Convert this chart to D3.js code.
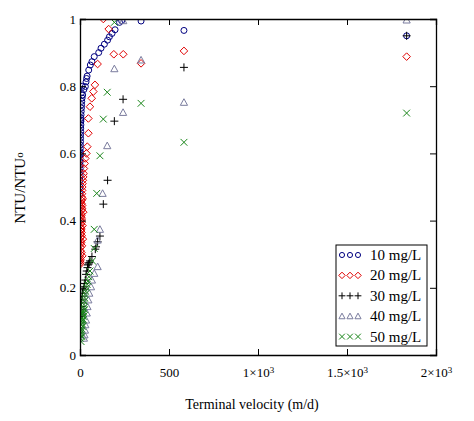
<!DOCTYPE html>
<html>
<head>
<meta charset="utf-8">
<script src="https://cdn.jsdelivr.net/npm/d3@7"></script>
<style>
  body { margin: 0; background: #fff; }
</style>
</head>
<body>
<svg width="474" height="421"></svg>
<script>
// terminal velocity (m/d) and NTU/NTUo per dose
const v10 = [1835, 584, 343, 234, 222, 197, 180, 165, 155, 137, 118, 105, 80, 67, 58, 49, 40, 37, 34, 30, 22, 15, 12, 10, 9, 8, 7, 6, 6, 5, 5, 4, 4, 3, 3, 3, 2, 2, 2, 2, 1, 1, 1, 1, 1, 1, 0.5, 0.5, 0.5, 8, 12, 5, 3];
const r10 = [0.95, 0.966, 0.994, 0.995, 0.99, 0.968, 0.957, 0.947, 0.937, 0.925, 0.913, 0.90, 0.888, 0.873, 0.863, 0.848, 0.83, 0.823, 0.813, 0.799, 0.79, 0.774, 0.765, 0.755, 0.745, 0.735, 0.725, 0.715, 0.705, 0.695, 0.685, 0.675, 0.665, 0.655, 0.645, 0.635, 0.625, 0.615, 0.605, 0.595, 0.585, 0.575, 0.565, 0.555, 0.545, 0.535, 0.52, 0.50, 0.48, 0.78, 0.8, 0.7, 0.6];

const v20 = [1835, 584, 343, 243, 190, 161, 131, 99, 84, 75, 66, 56, 47, 47, 41, 36, 30, 26, 22, 20, 18, 16, 14, 13, 12, 11, 10, 9, 9, 8, 8, 7, 7, 6, 6, 5, 5, 5, 4, 4, 4, 3, 3, 3, 3, 2, 2, 2, 2, 15, 12, 18, 10, 14, 9, 16, 11, 8, 13, 7, 10, 6, 9, 12, 5, 8];
const r20 = [0.888, 0.905, 0.868, 0.895, 0.895, 0.97, 1.0, 0.866, 0.804, 0.784, 0.764, 0.739, 0.704, 0.66, 0.62, 0.60, 0.585, 0.57, 0.555, 0.54, 0.53, 0.52, 0.51, 0.50, 0.49, 0.48, 0.47, 0.46, 0.45, 0.44, 0.43, 0.42, 0.41, 0.40, 0.39, 0.38, 0.37, 0.36, 0.35, 0.34, 0.33, 0.32, 0.31, 0.30, 0.29, 0.285, 0.28, 0.275, 0.27, 0.465, 0.445, 0.425, 0.405, 0.385, 0.365, 0.345, 0.325, 0.305, 0.295, 0.415, 0.355, 0.335, 0.395, 0.435, 0.455, 0.375];

const v30 = [1835, 584, 242, 193, 155, 131, 112, 99, 90, 86, 67, 56, 52, 49, 45, 42, 38, 34, 30, 26, 22, 18, 14, 12, 10, 8, 6, 5, 4, 3, 2];
const r30 = [0.95, 0.856, 0.761, 0.696, 0.52, 0.449, 0.354, 0.337, 0.322, 0.315, 0.293, 0.28, 0.275, 0.271, 0.268, 0.26, 0.25, 0.24, 0.223, 0.213, 0.203, 0.194, 0.184, 0.175, 0.164, 0.155, 0.144, 0.135, 0.125, 0.12, 0.115];

const v40 = [1835, 584, 343, 243, 242, 193, 153, 127, 112, 99, 99, 80, 67, 62, 52, 47, 42, 38, 34, 30, 28, 25, 22];
const r40 = [0.997, 0.752, 0.878, 0.995, 0.722, 0.852, 0.623, 0.481, 0.374, 0.342, 0.263, 0.243, 0.223, 0.203, 0.184, 0.164, 0.144, 0.125, 0.104, 0.09, 0.074, 0.06, 0.05];

const v50 = [1835, 584, 343, 193, 153, 131, 112, 94, 80, 80, 70, 56, 50, 45, 40, 36, 32, 28, 26, 24, 22, 20, 18, 16, 14, 12, 11, 10, 9, 8, 7, 6, 5, 4, 3, 2, 20, 15, 25, 10, 18, 6];
const r50 = [0.72, 0.633, 0.749, 0.99, 0.782, 0.702, 0.593, 0.481, 0.374, 0.317, 0.28, 0.25, 0.233, 0.22, 0.21, 0.2, 0.19, 0.18, 0.17, 0.16, 0.15, 0.14, 0.13, 0.125, 0.12, 0.11, 0.105, 0.10, 0.095, 0.09, 0.08, 0.075, 0.07, 0.065, 0.06, 0.05, 0.115, 0.085, 0.135, 0.055, 0.105, 0.04];

const seriesNames = ['10 mg/L', '20 mg/L', '30 mg/L', '40 mg/L', '50 mg/L'];
const xTicks = [0, 500, 1000, 1500, 2000];
const yTicks = [0, 0.2, 0.4, 0.6, 0.8, 1];

const font = 'Liberation Serif';

const svg = d3.select('svg');
const margin = { top: 19, right: 38, bottom: 66, left: 80 };
const width = +svg.attr('width');
const height = +svg.attr('height');
const innerWidth = width - margin.left - margin.right;
const innerHeight = height - margin.top - margin.bottom;

const xScale = d3.scaleLinear().domain([0, 2000]).range([0, innerWidth]);
const yScale = d3.scaleLinear().domain([0, 1]).range([innerHeight, 0]);

const g = svg.append('g').attr('transform', `translate(${margin.left},${margin.top})`);

g.append('clipPath').attr('id', 'plot')
  .append('rect').attr('width', innerWidth).attr('height', innerHeight);

// marker shapes, stroked like the original
const shapes = [
  s => `M${3 * s},0A${3 * s},${3 * s} 0 1 1 ${-3 * s},0A${3 * s},${3 * s} 0 1 1 ${3 * s},0Z`,
  s => `M0,${-3.8 * s}L${3.8 * s},0L0,${3.8 * s}L${-3.8 * s},0Z`,
  s => `M${-4 * s},0H${4 * s}M0,${-4 * s}V${4 * s}`,
  s => `M0,${-3.6 * s}L${3.6 * s},${3 * s}L${-3.6 * s},${3 * s}Z`,
  s => `M${-3.4 * s},${-3.4 * s}L${3.4 * s},${3.4 * s}M${-3.4 * s},${3.4 * s}L${3.4 * s},${-3.4 * s}`
];
const colors = ['#000080', '#e00000', '#000000', '#7a7c9e', '#1a861a'];

const series = [[v10, r10], [v20, r20], [v30, r30], [v40, r40], [v50, r50]]
  .map(([v, r], i) => ({ i, points: v.map((d, k) => ({ x: d, y: r[k] })) }));

const marks = g.append('g').attr('clip-path', 'url(#plot)');
series.forEach(s => {
  marks.append('g').selectAll('path').data(s.points)
    .enter().append('path')
      .attr('transform', d => `translate(${xScale(d.x)},${yScale(d.y)})`)
      .attr('d', shapes[s.i](1))
      .attr('fill', 'none')
      .attr('stroke', colors[s.i])
      .attr('stroke-width', 1);
});

// axes with inward ticks on all four sides
const xAxis = d3.axisBottom(xScale).tickValues(xTicks).tickSize(-6).tickPadding(13)
  .tickFormat(d => d >= 1000 ? `${d / 1000}×10` : d);
const yAxis = d3.axisLeft(yScale).tickValues(yTicks).tickSize(-6).tickPadding(4)
  .tickFormat(d => d);

const xAxisG = g.append('g').attr('transform', `translate(0,${innerHeight})`).call(xAxis);
xAxisG.selectAll('.tick text').filter(d => d >= 1000)
  .append('tspan').attr('dy', '-0.45em').attr('font-size', 9).text('3');
const yAxisG = g.append('g').call(yAxis);
g.append('g').call(d3.axisTop(xScale).tickValues(xTicks).tickSize(-6).tickFormat(''));
g.append('g').attr('transform', `translate(${innerWidth},0)`)
  .call(d3.axisRight(yScale).tickValues(yTicks).tickSize(-6).tickFormat(''));

g.selectAll('.domain').attr('stroke', '#000').attr('stroke-width', 1.3);
g.selectAll('.tick line').attr('stroke', '#000');
xAxisG.attr('font-family', font);
yAxisG.attr('font-family', font);
g.selectAll('.tick text').attr('font-size', 13).attr('fill', '#000');

xAxisG.append('text')
  .attr('x', innerWidth / 2 - 6)
  .attr('y', 54)
  .attr('fill', '#000')
  .attr('font-size', 14)
  .attr('text-anchor', 'middle')
  .attr('font-family', font)
  .text('Terminal velocity (m/d)');

const yLabel = svg.append('text')
  .attr('transform', 'translate(25,188) rotate(-90)')
  .attr('text-anchor', 'middle')
  .attr('font-size', 15)
  .attr('fill', '#000')
  .attr('font-family', font)
  .text('NTU/NTU');
yLabel.append('tspan').attr('font-size', 11).attr('dy', '-0.15em').text('o');

// legend
const legend = svg.append('g').attr('transform', 'translate(336,245)');
legend.append('rect').attr('width', 91).attr('height', 101)
  .attr('fill', '#fff').attr('stroke', '#000').attr('stroke-width', 1);
seriesNames.forEach((name, i) => {
  const row = legend.append('g').attr('transform', `translate(0,${10 + i * 20.4})`);
  [6, 14, 22].forEach(cx => {
    row.append('path')
      .attr('transform', `translate(${cx},0)`)
      .attr('d', shapes[i](0.85))
      .attr('fill', 'none')
      .attr('stroke', colors[i]);
  });
  row.append('text')
    .attr('x', 34)
    .attr('y', 5)
    .attr('font-size', 15)
    .attr('fill', '#000')
    .attr('font-family', font)
    .text(name);
});
</script>
</body>
</html>
